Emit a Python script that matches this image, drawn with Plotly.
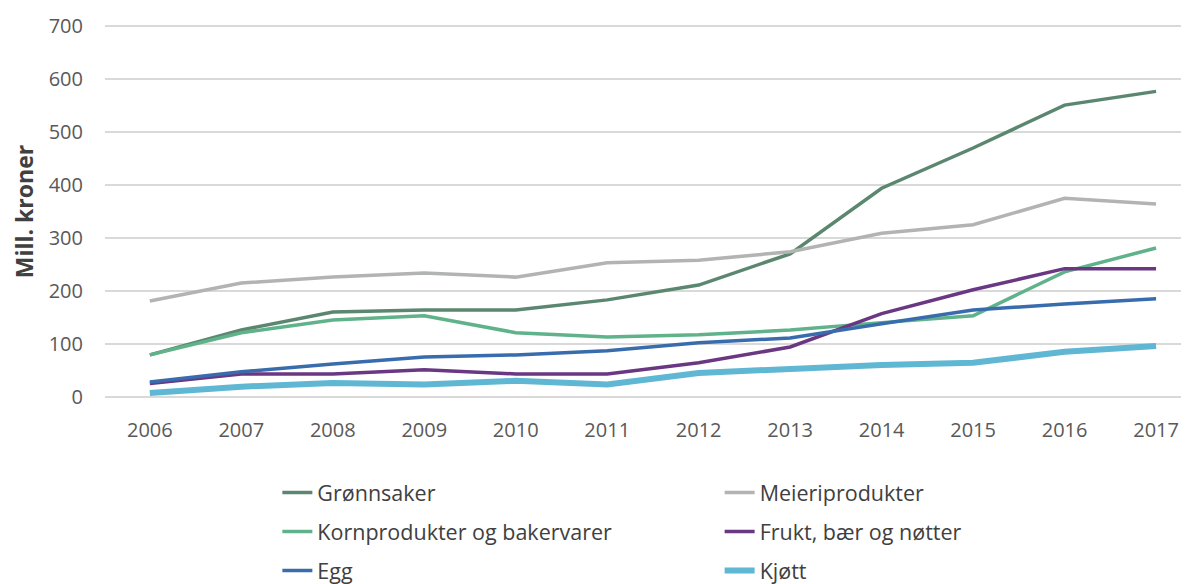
import plotly.graph_objects as go

years = [2006, 2007, 2008, 2009, 2010, 2011, 2012, 2013, 2014, 2015, 2016, 2017]

gronnsaker = [79, 126, 160, 164, 164, 183, 211, 270, 394, 470, 551, 577]
meieri = [181, 215, 226, 234, 226, 253, 258, 274, 309, 325, 375, 364]
korn = [79, 121, 145, 153, 121, 113, 117, 126, 140, 153, 236, 281]
frukt = [25, 43, 43, 51, 43, 43, 64, 94, 157, 202, 242, 242]
egg = [28, 47, 62, 75, 79, 87, 102, 111, 138, 164, 175, 185]
kjott = [7, 19, 26, 23, 30, 23, 45, 53, 60, 64, 85, 96]

series = [
    ("Grønnsaker", gronnsaker, "#5b8770", 3.5, "legend"),
    ("Meieriprodukter", meieri, "#b2b4b3", 3.5, "legend2"),
    ("Kornprodukter og bakervarer", korn, "#5fb28a", 3.5, "legend"),
    ("Frukt, bær og nøtter", frukt, "#6a3783", 3.5, "legend2"),
    ("Egg", egg, "#386cad", 3.5, "legend"),
    ("Kjøtt", kjott, "#60b7d3", 6, "legend2"),
]

fig = go.Figure()
for i, (name, vals, color, w, lg) in enumerate(series):
    fig.add_trace(go.Scatter(
        x=years, y=vals, name=name, mode="lines",
        line=dict(color=color, width=w),
        legend=lg, legendgroup=name,
    ))

font_family = "Open Sans, Liberation Sans, sans-serif"
legend_common = dict(
    orientation="v", xanchor="left", yanchor="top",
    font=dict(family=font_family, size=21.5, color="#404040"),
    tracegroupgap=8, bgcolor="rgba(0,0,0,0)", itemwidth=30,
)

# The page body adds an 8px offset, so the figure is 8px smaller than the window.
fig.update_layout(
    width=1181, height=576,
    margin=dict(l=97, r=0, t=13, b=182, autoexpand=False),
    paper_bgcolor="white", plot_bgcolor="white",
    font=dict(family=font_family, color="#595959"),
    showlegend=True,
    xaxis=dict(
        range=[2005.51, 2017.36], tickmode="array", tickvals=years,
        ticktext=[str(y) for y in years], showgrid=False, zeroline=False,
        showline=False, tickfont=dict(size=20, color="#595959"),
        ticklabelstandoff=14,
    ),
    yaxis=dict(
        range=[-10, 710], tickvals=[0, 100, 200, 300, 400, 500, 600, 700],
        showgrid=True, gridcolor="#d9d9d9", gridwidth=1.5, zeroline=False,
        showline=False, tickfont=dict(size=20, color="#595959"),
        ticklabelstandoff=21,
        title=dict(text="<b>Mill. kroner</b>", font=dict(size=23, color="#404040"),
                   standoff=10),
    ),
    legend=dict(x=0.159, y=-0.184, **legend_common),
    legend2=dict(x=0.567, y=-0.184, **legend_common),
)

fig.write_html("out.html")
